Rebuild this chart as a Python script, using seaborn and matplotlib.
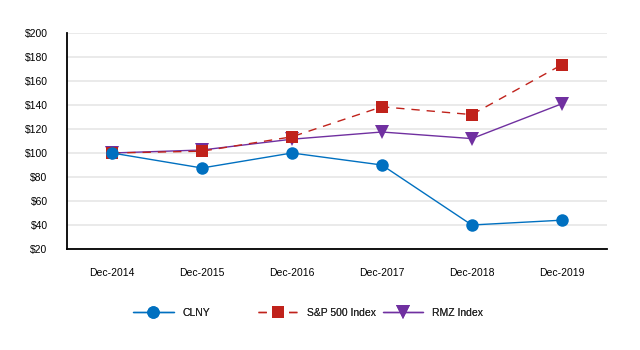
# Total return comparison chart, Dec-2014 base = $100
import seaborn as sns
import pandas as pd
import matplotlib.pyplot as plt

years = ['Dec-2014', 'Dec-2015', 'Dec-2016', 'Dec-2017', 'Dec-2018', 'Dec-2019']
clny = [100, 87.5, 100, 90, 40, 44]
sp500 = [100, 101.5, 113.5, 138.5, 132, 173.5]
rmz = [100, 102.5, 111.5, 117.5, 112, 141]
yticks = [20, 40, 60, 80, 100, 120, 140, 160, 180, 200]

sns.set_style('white')
plt.rcParams['font.family'] = ['Liberation Sans', 'DejaVu Sans']

df = pd.DataFrame({'year': years, 'CLNY': clny, 'S&P 500 Index': sp500, 'RMZ Index': rmz})

fig = plt.figure(figsize=(6.4, 3.5), dpi=100)
ax = fig.add_axes([0.1047, 0.2886, 0.8433, 0.6171])

ax.set_axisbelow(True)
ax.grid(axis='y', color='#e6e6e6', linewidth=1.2)

# draw order: RMZ at the bottom, CLNY on top
sns.lineplot(data=df, x='year', y='CLNY', ax=ax, color='#0070C0', marker='o',
             markersize=9, markeredgewidth=0, linewidth=1, label='CLNY', sort=False,
             zorder=5)
sns.lineplot(data=df, x='year', y='S&P 500 Index', ax=ax, color='#C0221B', marker='s',
             markersize=9, markeredgewidth=0, linewidth=1, linestyle=(0, (6, 5)),
             label='S&P 500 Index', sort=False, zorder=4)
sns.lineplot(data=df, x='year', y='RMZ Index', ax=ax, color='#7030A0', marker='v',
             markersize=10, markeredgewidth=0, linewidth=1, label='RMZ Index', sort=False,
             zorder=3)

ax.set_xlim(-0.5, 5.5)
ax.set_ylim(20, 200)
ax.set_yticks(yticks)
ax.set_yticklabels(['$%d' % v for v in yticks])
ax.set_xlabel('')
ax.set_ylabel('')
ax.tick_params(axis='both', labelsize=7.5, colors='#000000', length=4.5, width=0.8,
               direction='out')
ax.tick_params(axis='y', color='#999999', pad=9.4)
ax.tick_params(axis='x', color='#444444', pad=9.5)

for s in ['top', 'right']:
    ax.spines[s].set_visible(False)
for s in ['left', 'bottom']:
    ax.spines[s].set_color('#000000')
    ax.spines[s].set_linewidth(1.3)

handles, labels = ax.get_legend_handles_labels()
ax.get_legend().remove()
# one legend per series so every entry sits in a fixed-width slot
for h, lab, x0 in zip(handles, labels, [0.208, 0.403, 0.598]):
    fig.add_artist(fig.legend([h], [lab], loc='center left', bbox_to_anchor=(x0, 0.106),
                              frameon=False, fontsize=7.5, handlelength=3.9,
                              handletextpad=0.8, borderpad=0, borderaxespad=0))

fig.savefig('out.png', dpi=100)
